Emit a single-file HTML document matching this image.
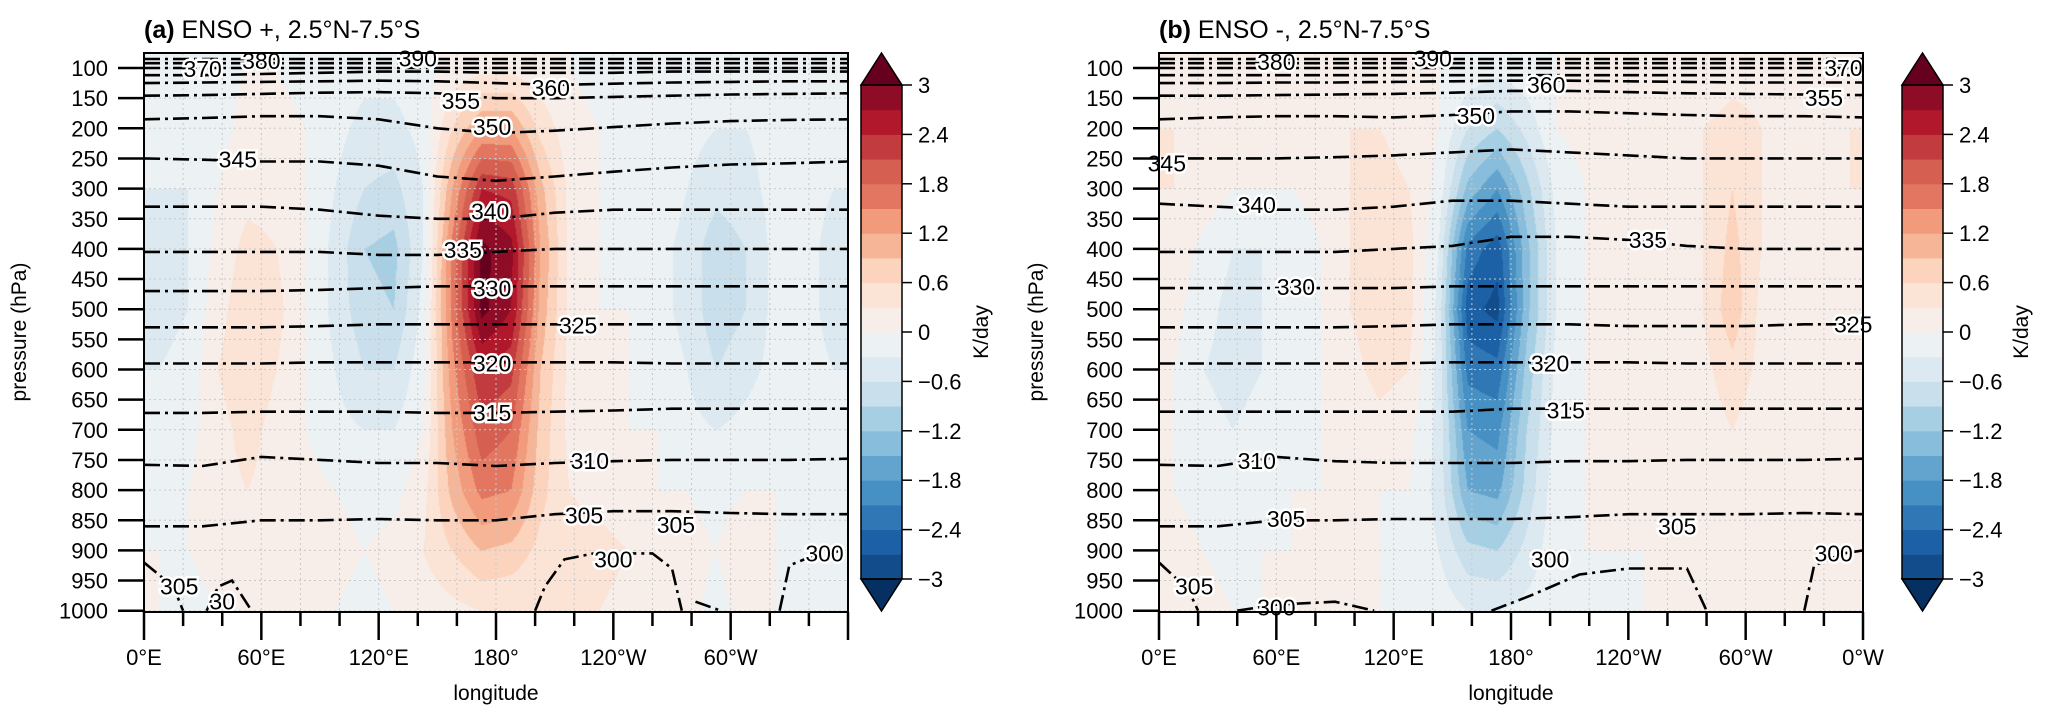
<!DOCTYPE html>
<html><head><meta charset="utf-8">
<style>
html,body{margin:0;padding:0;background:#fff;}
#wrap{position:relative;width:2067px;height:724px;overflow:hidden;font-family:"Liberation Sans",sans-serif;}
canvas{position:absolute;}
svg{position:absolute;left:0;top:0;}
</style></head>
<body>
<div id="wrap">
<canvas id="fa" width="704" height="559" style="left:144px;top:53px"></canvas>
<canvas id="fb" width="705" height="559" style="left:1159px;top:53px"></canvas>
<svg id="s" width="2067" height="724"></svg>
</div>
<script>
// ---- data ----
const lonCenters=[7.5,22.5,37.5,52.5,67.5,82.5,97.5,112.5,127.5,142.5,157.5,172.5,187.5,202.5,217.5,232.5,247.5,262.5,277.5,292.5,307.5,322.5,337.5,352.5];
const levels=[100,200,300,400,500,600,700,800,900,1000];
const fieldA=[
[-0.2,-0.2,-0.1,0,0,-0.1,-0.1,-0.2,-0.2,-0.1,0.1,0.2,0.2,0.1,0,-0.1,-0.1,-0.1,-0.1,-0.2,-0.2,-0.1,-0.1,-0.2],
[-0.3,-0.3,-0.1,0.1,0.1,0,-0.2,-0.4,-0.4,-0.2,0.6,1.2,1.2,0.5,0.1,0,-0.1,-0.1,-0.2,-0.3,-0.3,-0.2,-0.2,-0.3],
[-0.3,-0.3,0,0.2,0.2,0,-0.3,-0.6,-0.7,-0.3,1.2,2.4,2.3,1.0,0.2,0,-0.1,-0.1,-0.3,-0.5,-0.4,-0.2,-0.2,-0.3],
[-0.4,-0.3,0.1,0.4,0.3,0,-0.4,-0.9,-1.0,-0.3,1.6,3.1,2.8,1.2,0.2,0,-0.1,-0.2,-0.4,-0.8,-0.6,-0.2,-0.2,-0.4],
[-0.4,-0.3,0.2,0.5,0.4,0,-0.4,-0.8,-0.9,-0.2,1.6,3.1,2.7,1.1,0.2,0,0,-0.2,-0.4,-0.8,-0.6,-0.2,-0.2,-0.4],
[-0.3,-0.2,0.3,0.5,0.3,0,-0.3,-0.6,-0.6,-0.1,1.4,2.4,2.2,0.9,0.2,0,0,-0.1,-0.3,-0.6,-0.4,-0.2,-0.2,-0.3],
[-0.2,-0.1,0.2,0.4,0.2,0,-0.2,-0.3,-0.3,0,1.2,2.0,1.8,0.8,0.2,0.1,0,0,-0.2,-0.3,-0.2,-0.1,-0.1,-0.2],
[-0.1,0,0.2,0.3,0.2,0.1,0,-0.1,-0.1,0.2,1.0,1.6,1.5,0.7,0.3,0.2,0.1,0,0,-0.1,0,0,-0.1,-0.1],
[0,0,0.1,0.2,0.2,0.1,0.1,0,0.1,0.3,0.6,0.9,0.8,0.5,0.4,0.4,0.3,0.2,0.1,0,0.2,0,-0.1,-0.1],
[0,-0.1,0,0.1,0.1,0.1,0,-0.1,0,0.1,0.2,0.3,0.3,0.3,0.3,0.3,0.2,0.1,0.1,-0.1,0.1,0,-0.1,-0.1]];
const fieldB=[
[0.2,0.2,0.1,0.1,0,0.1,0.2,0.2,0.1,0,-0.1,-0.2,-0.1,0,0.1,0.1,0.1,0.1,0.1,0.2,0.2,0.2,0.2,0.2],
[0.3,0.3,0.2,0.1,0.1,0.2,0.3,0.3,0.2,0,-0.6,-0.9,-0.5,0,0.1,0.2,0.2,0.2,0.3,0.4,0.3,0.3,0.3,0.3],
[0.3,0.2,0,0,0,0.1,0.3,0.4,0.3,-0.1,-1.3,-1.8,-1.0,-0.2,0,0.1,0.1,0.2,0.3,0.6,0.3,0.2,0.2,0.3],
[0.2,-0.1,-0.3,-0.3,-0.2,0,0.3,0.6,0.4,-0.3,-2.2,-2.6,-1.3,-0.3,0,0,0.1,0.2,0.3,0.7,0.3,0.1,0.1,0.2],
[0.1,-0.2,-0.4,-0.3,-0.2,0,0.3,0.5,0.4,-0.4,-2.6,-2.8,-1.3,-0.3,0,0,0,0.1,0.3,0.8,0.2,0.1,0.1,0.1],
[0,-0.3,-0.4,-0.3,-0.2,0,0.2,0.4,0.3,-0.4,-2.2,-2.3,-1.1,-0.2,0,0,0,0.1,0.2,0.5,0.2,0.1,0,0],
[0,-0.2,-0.3,-0.2,-0.1,0,0.1,0.2,0.1,-0.4,-1.8,-1.9,-0.9,-0.2,0,0,0,0,0.1,0.3,0.1,0,0,0],
[0,-0.1,-0.2,-0.1,0,0,0,0,0,-0.4,-1.5,-1.6,-0.8,-0.1,0,0,0,0,0.1,0.2,0.1,0,0,0],
[0.1,0,-0.1,0,0,0,0,0,-0.1,-0.3,-0.8,-0.9,-0.5,-0.1,0,0,0,0,0,0.1,0,0,0,0],
[0.1,0.1,0,0,0,0,0,0,0,-0.1,-0.3,-0.3,-0.2,-0.1,-0.1,-0.1,0,0,0,0,0,0,0.1,0.1]];
const contourLons=[0,30,60,90,120,150,180,210,240,270,300,330,360];
const contoursA=[
[85,85,85,85,85,85,85,85,85,85,85,85,85],
[92,92,92,92,92,92,92,92,92,92,92,92,92],
[100,100,100,100,100,100,100,100,100,100,100,100,100],
[112,112,110,108,106,106,108,108,108,106,106,106,106],
[125,124,123,122,121,122,125,128,126,124,123,122,122],
[146,145,143,141,140,142,150,150,148,146,144,143,142],
[185,183,180,180,185,200,208,204,198,192,188,186,185],
[250,252,255,255,262,280,287,280,272,265,260,258,255],
[330,330,330,335,345,350,350,340,335,335,335,335,335],
[405,405,405,405,410,410,405,400,400,400,400,400,400],
[470,470,470,468,465,462,462,462,462,462,462,462,462],
[530,530,530,528,525,525,525,525,525,525,525,525,525],
[590,590,590,588,588,588,588,588,588,590,590,590,590],
[672,672,670,670,670,672,672,670,668,665,665,665,665],
[758,760,745,750,755,755,760,755,752,750,750,750,748],
[860,860,850,850,848,850,850,840,835,835,838,840,840]];
const contoursB=[
[85,85,85,85,85,85,85,85,85,85,85,85,85],
[92,92,92,92,92,92,92,92,92,92,92,92,92],
[100,100,100,100,100,100,100,100,100,100,100,100,100],
[112,112,112,112,112,112,112,112,112,112,112,112,112],
[125,125,124,124,123,122,121,121,122,123,124,124,124],
[146,146,145,144,143,141,138,138,140,142,143,144,145],
[185,182,180,180,182,178,172,172,175,178,180,180,182],
[250,250,250,248,245,240,235,240,245,250,250,250,250],
[325,330,335,335,330,320,320,325,330,330,330,330,330],
[405,405,405,405,400,395,380,380,385,395,400,400,400],
[465,465,465,465,465,462,462,462,462,462,462,462,462],
[530,530,530,530,528,525,525,525,528,528,528,525,525],
[590,590,590,590,590,588,588,588,588,590,590,590,590],
[670,670,670,670,670,670,665,665,665,665,665,665,665],
[758,760,745,752,755,755,755,752,752,750,750,750,748],
[860,860,850,850,848,848,848,845,840,840,840,838,840]];
const lowA=[[[0,920],[15,960],[20,1000]],[[32,1000],[38,960],[45,950],[55,1000]],[[200,1000],[205,960],[215,915],[230,905],[260,905],[270,930],[275,1000]],[[282,985],[295,1000]],[[325,1000],[330,925],[345,905],[360,900]]];
const lowB=[[[0,920],[15,965],[20,1000]],[[40,1000],[60,990],[90,985],[110,1000]],[[170,1000],[190,975],[215,940],[240,930],[270,930],[280,1000]],[[330,1000],[335,925],[350,905],[360,900]]];
const labelsA=[["370",30,102],["380",60,88],["390",140,84],["355",162,155],["360",208,133],["350",178,198],["345",48,252],["340",177,338],["335",163,402],["330",178,466],["325",222,527],["320",178,590],["315",178,672],["310",228,752],["305",225,842],["305",272,858],["300",240,915],["300",348,905],["305",18,960],["30",40,985]];
const labelsB=[["380",60,90],["390",140,84],["370",350,100],["360",198,128],["355",340,150],["350",162,180],["345",4,258],["340",50,327],["335",250,385],["330",70,463],["325",355,525],["320",200,590],["315",208,668],["310",50,752],["305",65,848],["305",265,860],["300",200,915],["300",345,905],["305",18,960],["300",60,995]];
const ticksP=[100,150,200,250,300,350,400,450,500,550,600,650,700,750,800,850,900,950,1000];
const lonTicks=[0,60,120,180,240,300,360];
const lonLabelsA=["0°E","60°E","120°E","180°","120°W","60°W",""];
const lonLabelsB=["0°E","60°E","120°E","180°","120°W","60°W","0°W"];
const cbTicks=[3,2.4,1.8,1.2,0.6,0,-0.6,-1.2,-1.8,-2.4,-3];
const cbColors=["#053061","#134c8a","#1c61a5","#2f78b5","#4690c3","#63a4cf","#88bddb","#a7cfe4","#c9dfec","#dde9f1","#ecf1f4","#f7ede9","#fbe3d6","#fcd3bc","#f6b596","#f19b7c","#e27660","#d55f51","#c23b3f","#b2182b","#8e0c25","#67001f"];
// ---- geometry ----
const PT=53,PB=612,W=704;
function yP(p){return 68+(p-100)/50*30.15;}
function panelX(x0){return lon=>x0+lon/360*W;}
function hex(c){return [parseInt(c.substr(1,2),16),parseInt(c.substr(3,2),16),parseInt(c.substr(5,2),16)];}
const rgb=cbColors.map(hex);
function drawField(id,field){
 const cv=document.getElementById(id),ctx=cv.getContext('2d');
 const w=cv.width,h=cv.height,img=ctx.createImageData(w,h);
 for(let py=0;py<h;py++){
  const p=100+((py+PT)-68)/30.15*50;
  let fr=(p-levels[0])/(levels[1]-levels[0]);fr=Math.max(0,Math.min(levels.length-1,fr));
  const r0=Math.floor(fr),r1=Math.min(levels.length-1,r0+1),tr=fr-r0;
  for(let px=0;px<w;px++){
   const lon=px/w*360;
   let fc=(lon-lonCenters[0])/(lonCenters[1]-lonCenters[0]);fc=Math.max(0,Math.min(lonCenters.length-1,fc));
   const c0=Math.floor(fc),c1=Math.min(lonCenters.length-1,c0+1),tc=fc-c0;
   const v=(field[r0][c0]*(1-tc)+field[r0][c1]*tc)*(1-tr)+(field[r1][c0]*(1-tc)+field[r1][c1]*tc)*tr;
   let i=Math.floor((v+3)/0.3)+1;i=Math.max(0,Math.min(21,i));
   const c=rgb[i],k=(py*w+px)*4;img.data[k]=c[0];img.data[k+1]=c[1];img.data[k+2]=c[2];img.data[k+3]=255;
  }
 }
 ctx.putImageData(img,0,0);
}
drawField('fa',fieldA);drawField('fb',fieldB);
const NS="http://www.w3.org/2000/svg",svg=document.getElementById('s');
function el(tag,attrs,parent,txt){const e=document.createElementNS(NS,tag);for(const k in attrs)e.setAttribute(k,attrs[k]);if(txt!==undefined)e.textContent=txt;(parent||svg).appendChild(e);return e;}
function panel(x0,tag,title,contours,lows,labels,lonLabels,cbx,cbLabelX,ylabX,kdayX){
 const X=panelX(x0);
 const g=el('g',{});
 
 
 const grid=el('g',{stroke:'#c8c8c8','stroke-width':1,'stroke-dasharray':'2,3'},g);
 
 
 ticksP.forEach(p=>el('line',{x1:x0,x2:x0+W,y1:yP(p),y2:yP(p)},grid));
 for(let l=20;l<360;l+=20)el('line',{x1:X(l),x2:X(l),y1:PT,y2:PB},grid);
 const cg=el('g',{fill:'none',stroke:'#000','stroke-width':2.6,'stroke-dasharray':'16,5,3,5'},g);
 
 
 contours.forEach(row=>{const d=row.map((p,i)=>(i?'L':'M')+X(contourLons[i]).toFixed(1)+','+yP(p).toFixed(1)).join('');const pa=el('path',{d:d},cg);
  
  });
 lows.forEach(seg=>{const d=seg.map((q,i)=>(i?'L':'M')+X(q[0]).toFixed(1)+','+yP(q[1]).toFixed(1)).join('');const pa=el('path',{d:d},cg);
  
  });
 labels.forEach(L=>{const t=el('text',{x:X(L[1]),y:yP(L[2])+8,'font-size':23,'text-anchor':'middle',fill:'#000',stroke:'#fff','stroke-width':5,'paint-order':'stroke'},g,L[0]);
  
  });
 const fr=el('rect',{x:x0,y:PT,width:W,height:PB-PT,fill:'none',stroke:'#000','stroke-width':2},g);
 
 
 ticksP.forEach(p=>{el('line',{x1:x0-26,x2:x0,y1:yP(p),y2:yP(p),stroke:'#000','stroke-width':2.5},g);
  const t=el('text',{x:x0-36,y:yP(p)+8,'font-size':22,'text-anchor':'end'},g,String(p));
  
  });
 const yl=el('text',{x:ylabX,y:332,'font-size':21,'text-anchor':'middle',transform:'rotate(-90 '+ylabX+' 332)'},g,'pressure (hPa)');
 
 
 for(let l=0;l<=360;l+=20){const major=l%60===0;el('line',{x1:X(l),x2:X(l),y1:PB,y2:PB+(major?28:14),stroke:'#000','stroke-width':2.5},g);}
 lonTicks.forEach((l,i)=>{if(!lonLabels[i])return;const t=el('text',{x:X(l),y:665,'font-size':22,'text-anchor':'middle'},g,lonLabels[i]);
  
  });
 const xl=el('text',{x:x0+W/2,y:700,'font-size':21,'text-anchor':'middle'},g,'longitude');
 
 
 const tt=el('text',{x:x0,y:38,'font-size':25},g);
 
 
 el('tspan',{'font-weight':'bold'},tt,'('+tag+')');
 el('tspan',{},tt,'  '+title);
 const cb=el('g',{},g);
 
 
 const top=85,bot=579,cw=41,cyv=v=>top+(3-v)/6*(bot-top);
 for(let i=1;i<=20;i++){const v0=-3+(i-1)*0.3;el('rect',{x:cbx,y:cyv(v0+0.3),width:cw,height:cyv(v0)-cyv(v0+0.3)+0.5,fill:cbColors[i]},cb);}
 el('path',{d:`M${cbx},${top}L${cbx+cw/2},53L${cbx+cw},${top}Z`,fill:cbColors[21],stroke:'#000','stroke-width':1.5},cb);
 el('path',{d:`M${cbx},${bot}L${cbx+cw/2},611L${cbx+cw},${bot}Z`,fill:cbColors[0],stroke:'#000','stroke-width':1.5},cb);
 el('rect',{x:cbx,y:top,width:cw,height:bot-top,fill:'none',stroke:'#000','stroke-width':1.5},cb);
 cbTicks.forEach(v=>{el('line',{x1:cbx+cw,x2:cbx+cw+10,y1:cyv(v),y2:cyv(v),stroke:'#000','stroke-width':1.5},cb);
  const t=el('text',{x:cbLabelX,y:cyv(v)+8,'font-size':22},cb,(v<0?'\u2212':'')+String(Math.abs(v)));
  
  });
 const kl=el('text',{x:kdayX,y:332,'font-size':21,'text-anchor':'middle',transform:'rotate(-90 '+kdayX+' 332)'},cb,'K/day');
 
 
}
panel(144,'a','ENSO +, 2.5°N-7.5°S',contoursA,lowA,labelsA,lonLabelsA,861,918,26,988);
panel(1159,'b','ENSO -, 2.5°N-7.5°S',contoursB,lowB,labelsB,lonLabelsB,1902,1959,1043,2028);
</script>
</body></html>
